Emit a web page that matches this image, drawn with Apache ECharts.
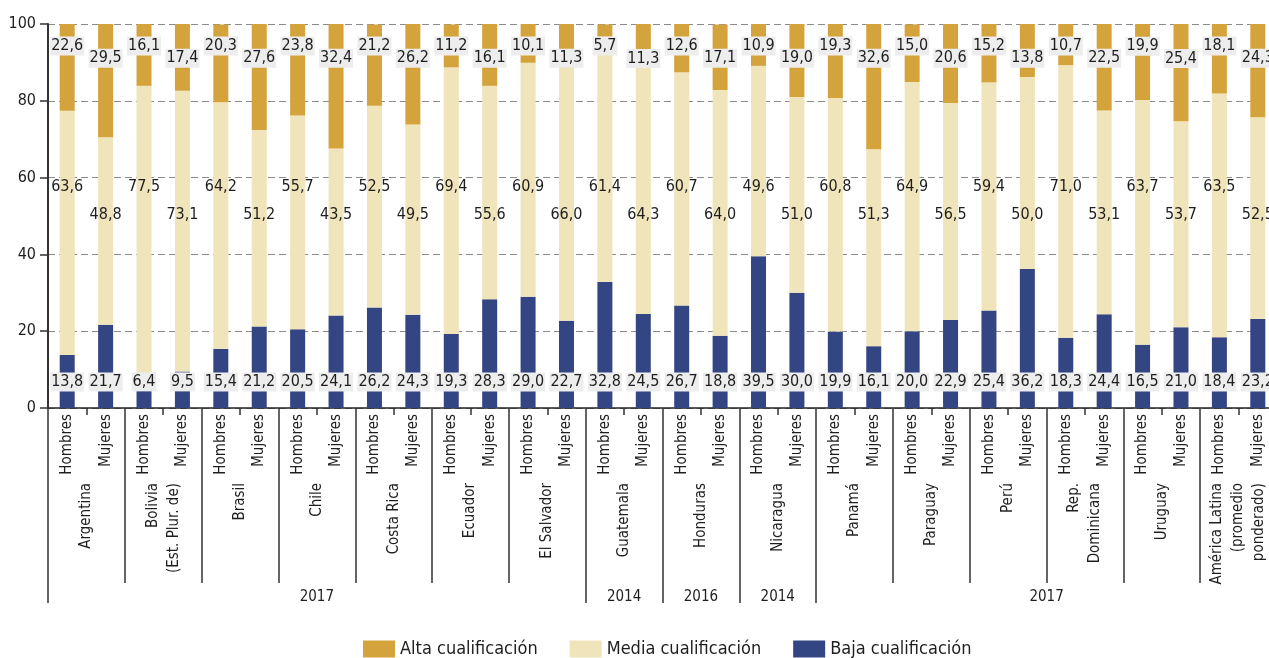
<!DOCTYPE html>
<html>
<head>
<meta charset="utf-8">
<script src="https://cdn.jsdelivr.net/npm/echarts@6/dist/echarts.min.js"></script>
<style>
  html, body { margin: 0; padding: 0; background: #fff; }
  #chart { width: 1269px; height: 658px; }
</style>
</head>
<body>
<div id="chart"></div>
<script>
// ---------- DATA ----------
const countries = ['Argentina', 'Bolivia\n(Est. Plur. de)', 'Brasil', 'Chile', 'Costa Rica', 'Ecuador',
  'El Salvador', 'Guatemala', 'Honduras', 'Nicaragua', 'Panamá', 'Paraguay', 'Perú',
  'Rep.\nDominicana', 'Uruguay', 'América Latina\n(promedio\nponderado)'];
const sexes = ['Hombres', 'Mujeres'];
const yearLabels = ['2017', '2014', '2016', '2014', '2017'];
const yearGroupSizes = [7, 1, 1, 1, 6];
const seriesNames = ['Alta cualificación', 'Media cualificación', 'Baja cualificación'];
// values interleaved: Hombres, Mujeres for each country
const alta  = [22.6, 29.5, 16.1, 17.4, 20.3, 27.6, 23.8, 32.4, 21.2, 26.2, 11.2, 16.1, 10.1, 11.3, 5.7, 11.3,
               12.6, 17.1, 10.9, 19.0, 19.3, 32.6, 15.0, 20.6, 15.2, 13.8, 10.7, 22.5, 19.9, 25.4, 18.1, 24.3];
const media = [63.6, 48.8, 77.5, 73.1, 64.2, 51.2, 55.7, 43.5, 52.5, 49.5, 69.4, 55.6, 60.9, 66.0, 61.4, 64.3,
               60.7, 64.0, 49.6, 51.0, 60.8, 51.3, 64.9, 56.5, 59.4, 50.0, 71.0, 53.1, 63.7, 53.7, 63.5, 52.5];
const baja  = [13.8, 21.7, 6.4, 9.5, 15.4, 21.2, 20.5, 24.1, 26.2, 24.3, 19.3, 28.3, 29.0, 22.7, 32.8, 24.5,
               26.7, 18.8, 39.5, 30.0, 19.9, 16.1, 20.0, 22.9, 25.4, 36.2, 18.3, 24.4, 16.5, 21.0, 18.4, 23.2];
const yTicks = [0, 20, 40, 60, 80, 100];

// ---------- LAYOUT / STYLE ----------
const GRID = { left: 48, top: 24, width: 1229, height: 384, outerBoundsMode: 'none', containLabel: false };
const FONT = "'DejaVu Sans Condensed', 'Liberation Sans Narrow', sans-serif";
const TXT = '#1e1e1e';
const COLORS = { alta: '#D4A33B', media: '#EFE4BA', baja: '#344583' };
const yPix = v => GRID.top + (1 - v / 100) * GRID.height;
// label anchor heights (in axis units) for [Hombres, Mujeres]
const labelAnchor = { baja: [6.8, 6.8], media: [57.6, 50.3], alta: [94.3, 91.1] };

const fmt = v => v.toFixed(1).replace('.', ',');

const xCats = [];
countries.forEach(() => sexes.forEach(s => xCats.push(s)));
const nBars = xCats.length;

// boundary axes (boundaryGap false, one slot per bar boundary)
const countryBoundary = [];
for (let k = 0; k <= nBars; k++) countryBoundary.push(k % 2 === 1 ? countries[(k - 1) / 2] : '');
const yearBoundary = new Array(nBars + 1).fill('');
const yearTickIdx = [0];
let acc = 0;
yearGroupSizes.forEach((n, g) => {
  const start = acc * 2, end = (acc + n) * 2;
  yearBoundary[(start + end) / 2] = yearLabels[g];
  acc += n;
  yearTickIdx.push(end);
});
const yearLabelIdx = yearBoundary.map((v, i) => v ? i : -1).filter(i => i >= 0);

function buildData(key, vals) {
  return vals.map((v, i) => {
    let top = baja[i];
    if (key !== 'baja') top += media[i];
    if (key === 'alta') top += alta[i];
    const target = labelAnchor[key][i % 2];
    return { value: v, label: { position: ['50%', yPix(target) - yPix(top)] } };
  });
}

const labelBase = {
  show: true,
  align: 'center',
  verticalAlign: 'middle',
  fontFamily: FONT,
  fontSize: 16,
  color: TXT,
  formatter: p => fmt(p.value)
};
const labelBg = Object.assign({}, labelBase, { backgroundColor: '#EDEDED', padding: [2, 1, 1, 1] });

const chart = echarts.init(document.getElementById('chart'), null, { renderer: 'canvas' });
chart.setOption({
  animation: false,
  textStyle: { fontFamily: FONT },
  grid: GRID,
  legend: {
    data: seriesNames,
    top: 635,
    left: 358,
    icon: 'rect',
    itemWidth: 32,
    itemHeight: 17,
    itemGap: 32,
    textStyle: { fontFamily: FONT, fontSize: 18, color: TXT }
  },
  xAxis: [
    {
      type: 'category',
      data: xCats,
      position: 'bottom',
      axisLine: { show: true, lineStyle: { color: '#222', width: 1.5 } },
      axisTick: { show: true, interval: 0, length: 7, lineStyle: { color: '#333', width: 1.5 } },
      axisLabel: { interval: 0, rotate: 90, margin: 6, fontFamily: FONT, fontSize: 15, color: TXT }
    },
    {
      type: 'category',
      data: countryBoundary,
      boundaryGap: false,
      position: 'bottom',
      axisLine: { show: false },
      axisTick: { show: true, interval: i => i % 2 === 0, length: 175, lineStyle: { color: '#333', width: 1.5 } },
      axisLabel: { interval: i => i % 2 === 1, rotate: 90, margin: 75, fontFamily: FONT, fontSize: 15,
                   color: TXT, lineHeight: 21 }
    },
    {
      type: 'category',
      data: yearBoundary,
      boundaryGap: false,
      position: 'bottom',
      axisLine: { show: false },
      axisTick: { show: true, interval: i => yearTickIdx.indexOf(i) >= 0, length: 195,
                  lineStyle: { color: '#333', width: 1.5 } },
      axisLabel: { interval: i => yearLabelIdx.indexOf(i) >= 0, margin: 182, fontFamily: FONT,
                   fontSize: 15, color: TXT }
    }
  ],
  yAxis: {
    type: 'value',
    min: yTicks[0],
    max: yTicks[yTicks.length - 1],
    interval: yTicks[1] - yTicks[0],
    axisLine: { show: true, lineStyle: { color: '#333', width: 2 } },
    axisTick: { show: true, length: 8, lineStyle: { color: '#333', width: 1.5 } },
    axisLabel: { margin: 12, fontFamily: FONT, fontSize: 16, color: TXT },
    splitLine: { show: true, lineStyle: { color: '#8a8a8a', type: [7, 4], width: 1 } }
  },
  series: [
    {
      name: seriesNames[2], type: 'bar', stack: 'q', barWidth: 15,
      itemStyle: { color: COLORS.baja },
      label: labelBg,
      data: buildData('baja', baja), z: 2
    },
    {
      name: seriesNames[1], type: 'bar', stack: 'q', barWidth: 15,
      itemStyle: { color: COLORS.media },
      label: labelBase,
      data: buildData('media', media), z: 2
    },
    {
      name: seriesNames[0], type: 'bar', stack: 'q', barWidth: 15,
      itemStyle: { color: COLORS.alta },
      label: labelBg,
      data: buildData('alta', alta), z: 2
    }
  ]
});
</script>
</body>
</html>
